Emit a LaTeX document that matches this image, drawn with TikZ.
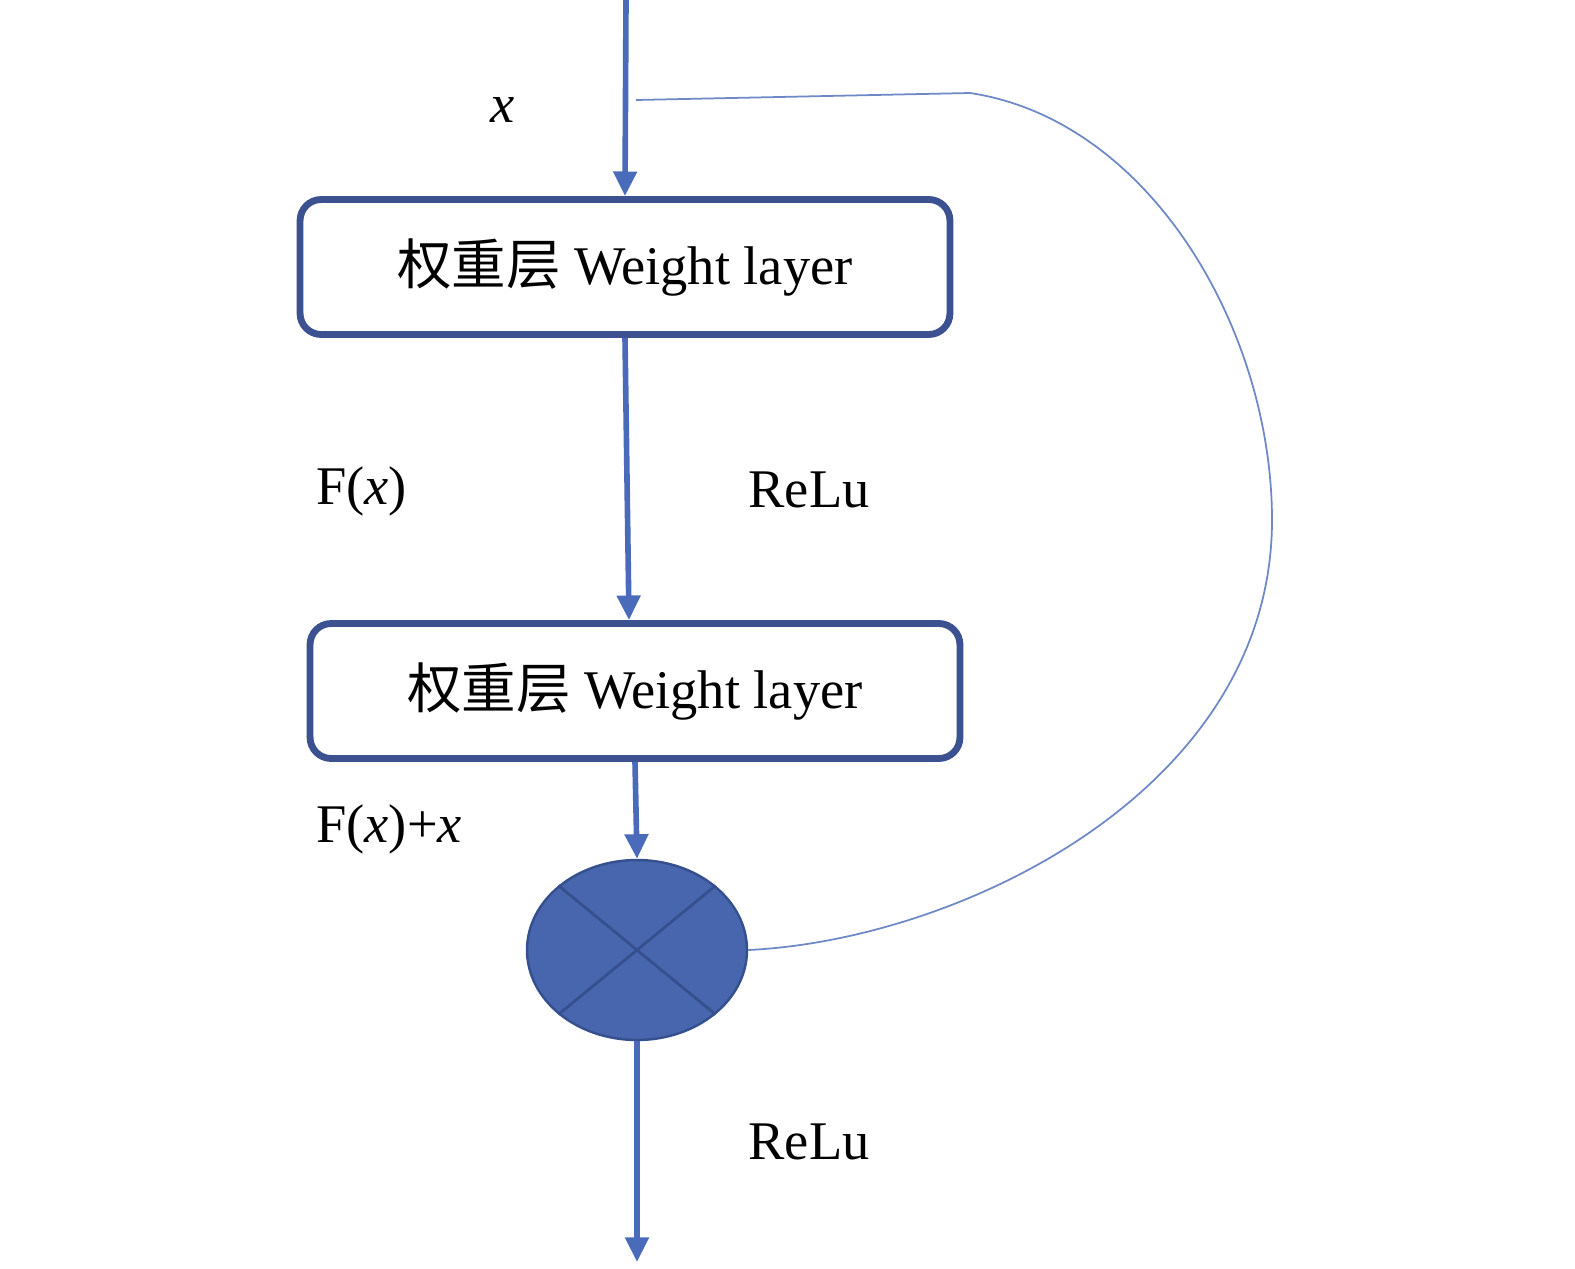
\documentclass[tikz,border=0pt]{standalone}
\usepackage{fontspec}
\setmainfont{Liberation Serif}
\newfontfamily\cjk{Noto Sans CJK SC}
\usepackage{tikz}
\usetikzlibrary{arrows.meta,shapes.geometric}

\definecolor{arrowblue}{HTML}{4A6BBA}
\definecolor{boxblue}{HTML}{3C5290}
\definecolor{sumblue}{HTML}{4766AE}
\definecolor{sumedge}{HTML}{36508E}
\definecolor{skipblue}{HTML}{6F88C6}

\tikzset{
  layerbox/.style={draw=boxblue, line width=3.9pt, rounded corners=12pt,
    minimum width=13cm, minimum height=2.7cm, inner sep=0pt, fill=white},
  flow/.style={arrowblue, line width=3.2pt,
    -{Triangle[width=13pt,length=14pt]}},
  lbl/.style={inner sep=0pt}
}

\begin{document}
\begin{tikzpicture}[x=0.02cm,y=-0.02cm,font=\fontsize{31}{37}\selectfont]
  \useasboundingbox (0,0) rectangle (1575,1268);
  % layers
  \node[layerbox] (w1) at (625,267) {{\cjk 权重层} Weight layer};
  \node[layerbox] (w2) at (635,691) {{\cjk 权重层} Weight layer};
  % sum node
  \node[ellipse, draw=sumedge, line width=1.4pt, fill=sumblue,
        minimum width=4.4cm, minimum height=3.6cm, inner sep=0pt] (sum) at (637,950) {};
  \draw[sumedge, line width=1.6pt] (sum.north west) -- (sum.south east);
  \draw[sumedge, line width=1.6pt] (sum.north east) -- (sum.south west);
  % in and out
  \coordinate (in) at (626,0);
  \coordinate (out) at (637,1262);
  \coordinate (sk) at (636,100);
  \draw[flow] (in) -- (w1.north);
  \draw[flow] (w1.south) -- ([xshift=-0.12cm]w2.north);
  \draw[flow] (w2.south) -- (sum.north);
  \draw[flow] (sum.south) -- (out);
  % shortcut
  \draw[skipblue, line width=1pt] (sk) -- (970,93)
    .. controls (1150,120) and (1272,330) .. (1272,520)
    .. controls (1272,790) and (960,940) .. (sum.east);
  % labels
  \node[lbl] (lx) at (503,110) {\textit{x}};
  \node[lbl, anchor=west] (lf) at (316,491) {F(\textit{x})};
  \node[lbl] (lr1) at (809,490) {ReLu};
  \node[lbl, anchor=west] (lfx) at (316,829) {F(\textit{x})+\textit{x}};
  \node[lbl] (lr2) at (809,1142) {ReLu};
\end{tikzpicture}
\end{document}
